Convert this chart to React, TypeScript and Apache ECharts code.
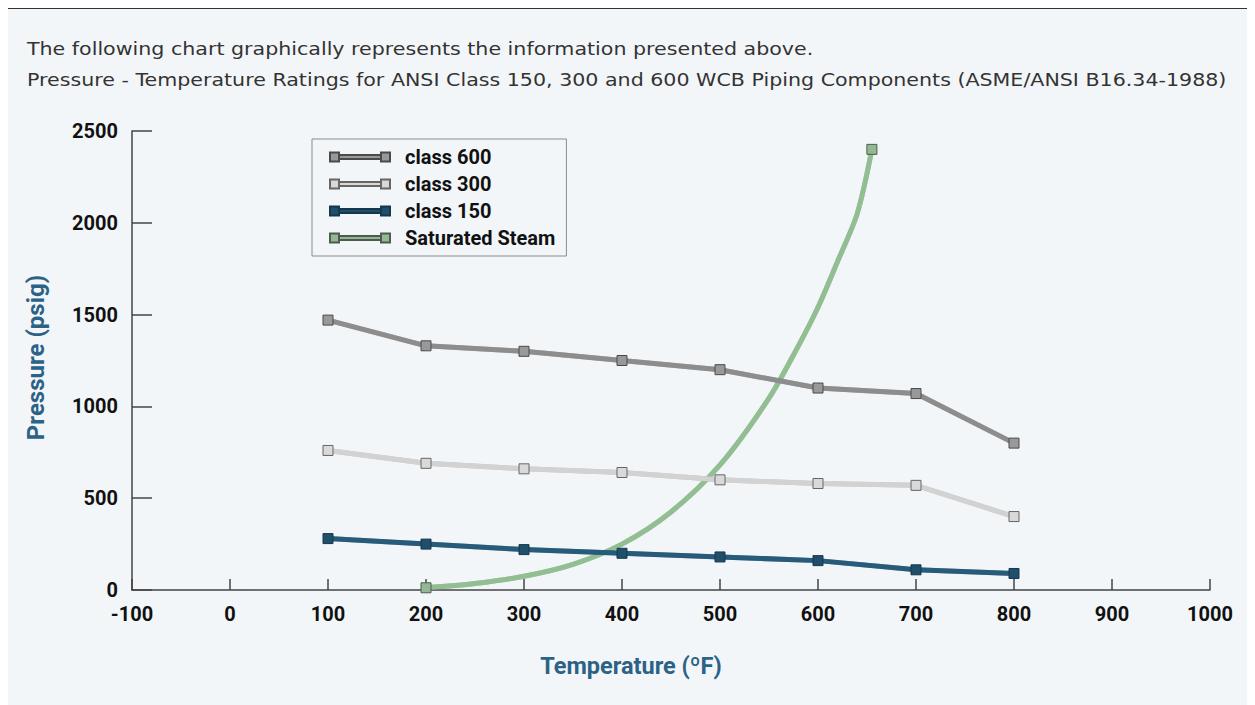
import React, { useEffect, useRef } from "react";
import * as echarts from "echarts";

const titleLines = [
  "The following chart graphically represents the information presented above.",
  "Pressure - Temperature Ratings for ANSI Class 150, 300 and 600 WCB Piping Components (ASME/ANSI B16.34-1988)",
];

const seriesNames = ["class 600", "class 300", "class 150", "Saturated Steam"];

const ratingTemps = [100, 200, 300, 400, 500, 600, 700, 800];
const class600 = [1470, 1330, 1300, 1250, 1200, 1100, 1070, 800];
const class300 = [760, 690, 660, 640, 600, 580, 570, 400];
const class150 = [280, 250, 220, 200, 180, 160, 110, 90];

const steamTemps = [200, 250, 300, 350, 400, 450, 500, 550, 580, 600, 620, 640, 655];
const steamPressure = [12, 35, 75, 140, 250, 425, 681, 1045, 1330, 1540, 1790, 2050, 2400];

const xTicks = { min: -100, max: 1000, interval: 100 };
const yTicks = { min: 0, max: 2500, interval: 500 };

const BOLDFONT = "Roboto, 'Noto Sans', sans-serif";
const TITLEFONT = "'DejaVu Sans', sans-serif";
const LEGEND_ICON = "path://M0,0H9V9H0Z M9,2.5H51V6.5H9Z M51,0H60V9H51Z";

export default function App() {
  const ref = useRef<HTMLDivElement>(null);

  useEffect(() => {
    if (!ref.current) return;
    const chart = echarts.init(ref.current, undefined, { renderer: "svg" });

    const pair = (xs: number[], ys: number[]) => xs.map((x, i) => [x, ys[i]]);
    const steamData = steamTemps.map((t, i) => {
      const isEnd = i === 0 || i === steamTemps.length - 1;
      return isEnd ? { value: [t, steamPressure[i]] } : { value: [t, steamPressure[i]], symbol: "none" };
    });

    const lineSeries = (name: string, data: any, color: string, border: string, lineColor: string, extra: any = {}) => ({
      name,
      type: "line",
      data,
      symbol: "rect",
      symbolSize: 10,
      showAllSymbol: true,
      itemStyle: { color, borderColor: border, borderWidth: 1 },
      lineStyle: {
        color: lineColor,
        width: 5,
        shadowColor: "rgba(0,0,0,0.35)",
        shadowBlur: 1.5,
      },
      emphasis: { disabled: true },
      ...extra,
    });

    const plain = (v: number) => String(v);

    chart.setOption({
      animation: false,
      backgroundColor: "transparent",
      graphic: titleLines.map((t, i) => ({
        type: "text",
        x: 19,
        y: 40 + i * 31,
        scaleX: 1.145,
        silent: true,
        style: {
          text: t,
          font: `normal 18px ${TITLEFONT}`,
          fill: "#333",
          textVerticalAlign: "middle",
          verticalAlign: "middle",
        },
      })),
      legend: {
        data: seriesNames,
        orient: "vertical",
        left: 304,
        top: 130,
        padding: [8, 11, 8, 17],
        itemGap: 7,
        itemWidth: 60,
        itemHeight: 10,
        icon: LEGEND_ICON,
        borderColor: "#8a8a8a",
        borderWidth: 1,
        selectedMode: false,
        textStyle: {
          fontFamily: BOLDFONT,
          fontSize: 20,
          fontWeight: "bold",
          color: "#111",
          padding: [0, 0, 0, 10],
        },
      },
      grid: { left: 124, right: 45, top: 122, bottom: 115 },
      xAxis: {
        type: "value",
        ...xTicks,
        name: "Temperature (ºF)",
        nameLocation: "middle",
        nameGap: 64,
        nameTextStyle: {
          fontFamily: BOLDFONT,
          fontSize: 23.5,
          fontWeight: "bold",
          color: "#2b6286",
          padding: [0, 80, 0, 0],
        },
        splitLine: { show: false },
        axisLine: { onZero: false, lineStyle: { color: "#444", width: 1.5 } },
        axisTick: { inside: true, length: 11, lineStyle: { color: "#444", width: 1.5 } },
        axisLabel: {
          fontFamily: BOLDFONT,
          fontSize: 20,
          fontWeight: "bold",
          color: "#111",
          margin: 14,
          formatter: plain,
        },
      },
      yAxis: {
        type: "value",
        ...yTicks,
        name: "Pressure (psig)",
        nameLocation: "middle",
        nameGap: 84,
        nameTextStyle: {
          fontFamily: BOLDFONT,
          fontSize: 24,
          fontWeight: "bold",
          color: "#2b6286",
          padding: [0, 0, 0, 6],
        },
        splitLine: { show: false },
        axisLine: { show: true, onZero: false, lineStyle: { color: "#444", width: 1.5 } },
        axisTick: { show: true, inside: true, length: 20, lineStyle: { color: "#444", width: 1.5 } },
        axisLabel: {
          fontFamily: BOLDFONT,
          fontSize: 20,
          fontWeight: "bold",
          color: "#111",
          margin: 14,
          formatter: plain,
        },
      },
      series: [
        lineSeries("Saturated Steam", steamData, "#93b893", "#4d5d4d", "#92bf91", { smooth: 0.3 }),
        lineSeries("class 150", pair(ratingTemps, class150), "#1f4f6b", "#17384c", "#255b7a"),
        lineSeries("class 300", pair(ratingTemps, class300), "#d9d9d9", "#666", "#d2d2d2"),
        lineSeries("class 600", pair(ratingTemps, class600), "#999", "#4a4a4a", "#8d8d8d"),
      ],
    });

    return () => chart.dispose();
  }, []);

  return (
    <div
      style={{
        marginLeft: -1,
        width: 1248,
        height: 697,
        boxSizing: "border-box",
        borderTop: "1px solid #333",
        borderLeft: "1px solid #333",
        background: "#f3f6f9",
        overflow: "hidden",
      }}
    >
      <div ref={ref} style={{ width: 1247, height: 696 }} />
    </div>
  );
}
